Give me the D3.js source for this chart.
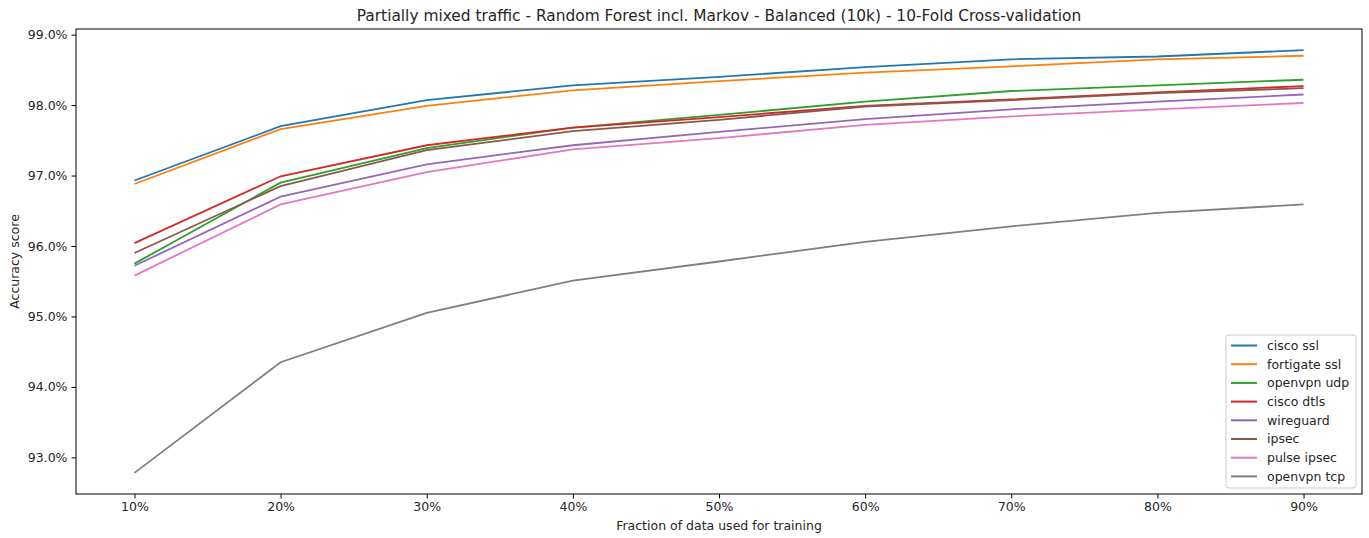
<!DOCTYPE html>
<html>
<head>
<meta charset="utf-8">
<script src="https://cdn.jsdelivr.net/npm/d3@7"></script>
<style>
  body { margin: 0; background: #fff; }
  text { font-family: "DejaVu Sans", sans-serif; fill: #262626; }
</style>
</head>
<body>
<svg id="chart" width="1369" height="538"></svg>
<script>
// 训练数据比例
const fractions = [0.1, 0.2, 0.3, 0.4, 0.5, 0.6, 0.7, 0.8, 0.9];

// 各协议准确率（%）
const ciscoSsl     = [96.93, 97.70, 98.07, 98.28, 98.40, 98.54, 98.65, 98.69, 98.78];
const fortigateSsl = [96.88, 97.66, 97.99, 98.21, 98.34, 98.46, 98.55, 98.65, 98.70];
const openvpnUdp   = [95.75, 96.90, 97.39, 97.68, 97.86, 98.05, 98.20, 98.28, 98.36];
const ciscoDtls    = [96.04, 96.99, 97.43, 97.68, 97.83, 97.99, 98.08, 98.18, 98.27];
const wireguard    = [95.72, 96.70, 97.16, 97.43, 97.62, 97.80, 97.94, 98.05, 98.15];
const ipsec        = [95.90, 96.85, 97.36, 97.63, 97.79, 97.98, 98.07, 98.17, 98.24];
const pulseIpsec   = [95.58, 96.59, 97.05, 97.37, 97.53, 97.72, 97.84, 97.94, 98.03];
const openvpnTcp   = [92.78, 94.35, 95.05, 95.51, 95.78, 96.06, 96.28, 96.47, 96.59];

const seriesNames = ['cisco ssl', 'fortigate ssl', 'openvpn udp', 'cisco dtls',
  'wireguard', 'ipsec', 'pulse ipsec', 'openvpn tcp'];
const seriesValues = [ciscoSsl, fortigateSsl, openvpnUdp, ciscoDtls,
  wireguard, ipsec, pulseIpsec, openvpnTcp];
const yTicks = [93, 94, 95, 96, 97, 98, 99];

const svg = d3.select('#chart');
const width = +svg.attr('width');
const height = +svg.attr('height');

// 坐标区边界
const margin = { top: 29, right: 7, bottom: 44, left: 76 };
const plotW = width - margin.left - margin.right;
const plotH = height - margin.top - margin.bottom;

// 比例尺（matplotlib 默认 5% 边距）
const xExt = d3.extent(fractions);
const xPad = (xExt[1] - xExt[0]) * 0.05;
const x = d3.scaleLinear().domain([xExt[0] - xPad, xExt[1] + xPad]).range([0, plotW]);

const allVals = seriesValues.flat();
const yMin = d3.min(allVals), yMax = d3.max(allVals);
const yPad = (yMax - yMin) * 0.05;
const y = d3.scaleLinear().domain([yMin - yPad, yMax + yPad]).range([plotH, 0]);

const color = d3.scaleOrdinal().domain(seriesNames).range(d3.schemeCategory10);

const g = svg.append('g').attr('transform', `translate(${margin.left},${margin.top})`);

// 坐标轴
const xAxis = g.append('g')
  .attr('transform', `translate(0,${plotH})`)
  .call(d3.axisBottom(x).tickValues(fractions).tickFormat(d3.format('.0%')).tickSize(4.5).tickPadding(4));
const yAxis = g.append('g')
  .call(d3.axisLeft(y).tickValues(yTicks).tickFormat(d => d.toFixed(1) + '%').tickSize(4.5).tickPadding(4));

[xAxis, yAxis].forEach(a => {
  a.select('.domain').remove();
  a.selectAll('line').attr('stroke', '#000').attr('stroke-width', 1);
  a.selectAll('text').attr('font-size', 12.5).attr('font-family', '"DejaVu Sans", sans-serif').attr('fill', '#262626');
});

// 折线
const line = d3.line().x((d, i) => x(fractions[i])).y(d => y(d));
g.append('g').selectAll('path')
  .data(seriesValues)
  .join('path')
  .attr('fill', 'none')
  .attr('stroke', (d, i) => color(seriesNames[i]))
  .attr('stroke-width', 1.8)
  .attr('d', line);

// 边框
g.append('rect')
  .attr('width', plotW).attr('height', plotH)
  .attr('fill', 'none').attr('stroke', '#000').attr('stroke-width', 1);

// 标题和轴标题
svg.append('text')
  .attr('x', margin.left + plotW / 2).attr('y', 21)
  .attr('text-anchor', 'middle').attr('font-size', 15.4)
  .text('Partially mixed traffic - Random Forest incl. Markov - Balanced (10k) - 10-Fold Cross-validation');
svg.append('text')
  .attr('x', margin.left + plotW / 2).attr('y', 530)
  .attr('text-anchor', 'middle').attr('font-size', 12.5)
  .text('Fraction of data used for training');
svg.append('text')
  .attr('transform', `translate(19,${margin.top + plotH / 2}) rotate(-90)`)
  .attr('text-anchor', 'middle').attr('font-size', 12.5)
  .text('Accuracy score');

// 图例
const legend = g.append('g').attr('transform', `translate(${plotW - 136},${plotH - 159})`);
legend.append('rect')
  .attr('width', 130).attr('height', 153).attr('rx', 3)
  .attr('fill', '#fff').attr('fill-opacity', 0.8)
  .attr('stroke', '#ccc').attr('stroke-width', 1);
const items = legend.selectAll('g.item')
  .data(seriesNames)
  .join('g')
  .attr('class', 'item')
  .attr('transform', (d, i) => `translate(0,${10.5 + i * 18.7})`);
items.append('line')
  .attr('x1', 5).attr('x2', 31)
  .attr('stroke', d => color(d)).attr('stroke-width', 2);
items.append('text')
  .attr('x', 41).attr('dy', '0.35em').attr('font-size', 12.5)
  .text(d => d);
</script>
</body>
</html>
